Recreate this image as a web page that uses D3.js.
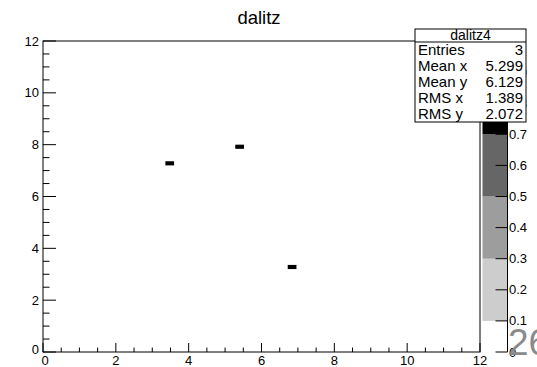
<!DOCTYPE html>
<html>
<head>
<meta charset="utf-8">
<script src="https://cdn.jsdelivr.net/npm/d3@7"></script>
<style>
  html, body { margin: 0; padding: 0; background: #fff; }
  svg { display: block; }
  text { font-family: "Liberation Sans", Arial, Helvetica, sans-serif; }
</style>
</head>
<body>
<svg id="chart" width="537" height="367"></svg>
<script>
// Filled entries of the 2-D histogram (x, y, weight)
const histName = "dalitz4";
const title = "dalitz";
const entryX = [3.51, 5.49, 6.897];
const entryY = [7.284, 7.884, 3.219];
const entryW = [1, 1, 1];

// Binning and axis ranges
const xRange = [0, 12];
const yRange = [0, 12];
const zRange = [0, 1];
const xBins = 50;
const yBins = 75;
const axisTicks = [0, 2, 4, 6, 8, 10, 12];
const paletteTicks = [0, 0.1, 0.2, 0.3, 0.4, 0.5, 0.6, 0.7, 0.8, 0.9, 1];

// Contour levels of the grey palette and their colours
const contourLevels = [0.1, 0.3, 0.5, 0.7, 0.9];
const contourColors = ["#cdcdcd", "#9d9d9d", "#666666", "#000000"];

const svg = d3.select("#chart");
const frame = { left: 43, right: 480, top: 41, bottom: 352 };

const x = d3.scaleLinear().domain(xRange).range([frame.left, frame.right]);
const y = d3.scaleLinear().domain(yRange).range([frame.bottom, frame.top]);
const z = d3.scaleLinear().domain(zRange).range([frame.bottom, frame.top]);
const colorOf = d3.scaleThreshold()
  .domain(contourLevels.slice(0, 4))
  .range(["none"].concat(contourColors));

// Accumulate entries into bins
const bw = (xRange[1] - xRange[0]) / xBins;
const bh = (yRange[1] - yRange[0]) / yBins;
const binMap = new Map();
entryX.forEach((vx, i) => {
  const ix = Math.floor((vx - xRange[0]) / bw);
  const iy = Math.floor((entryY[i] - yRange[0]) / bh);
  const key = ix + "," + iy;
  binMap.set(key, { ix, iy, w: (binMap.has(key) ? binMap.get(key).w : 0) + entryW[i] });
});
const bins = Array.from(binMap.values());

// Title
svg.append("text")
  .attr("x", 259).attr("y", 24)
  .attr("text-anchor", "middle")
  .attr("font-size", 18.5)
  .text(title);

// Bins
svg.append("g").selectAll("rect").data(bins).join("rect")
  .attr("x", d => x(xRange[0] + d.ix * bw))
  .attr("y", d => y(yRange[0] + (d.iy + 1) * bh))
  .attr("width", d => x(xRange[0] + (d.ix + 1) * bw) - x(xRange[0] + d.ix * bw))
  .attr("height", d => y(yRange[0] + d.iy * bh) - y(yRange[0] + (d.iy + 1) * bh))
  .attr("fill", d => colorOf(Math.min(d.w, zRange[1] * 0.999)));

// Frame
svg.append("rect")
  .attr("x", frame.left).attr("y", frame.top)
  .attr("width", frame.right - frame.left).attr("height", frame.bottom - frame.top)
  .attr("fill", "none").attr("stroke", "#000").attr("stroke-width", 1);

// Minor tick positions (4 subdivisions per major interval)
const minorTicks = d3.range(0, 12.0001, 0.5).filter(v => v % 2 !== 0);

// X axis: ticks drawn inward from the bottom edge
const gx = svg.append("g").attr("stroke", "#000");
gx.selectAll("line.maj").data(axisTicks).join("line")
  .attr("x1", d => x(d)).attr("x2", d => x(d))
  .attr("y1", frame.bottom).attr("y2", frame.bottom - 9);
gx.selectAll("line.min").data(minorTicks).join("line")
  .attr("x1", d => x(d)).attr("x2", d => x(d))
  .attr("y1", frame.bottom).attr("y2", frame.bottom - 4.5);
svg.append("g").selectAll("text").data(axisTicks).join("text")
  .attr("x", d => x(d) + (d === 0 ? 2 : 0)).attr("y", 364.5)
  .attr("text-anchor", "middle").attr("font-size", 13)
  .text(d => d);

// Y axis: ticks drawn inward from the left edge
const gy = svg.append("g").attr("stroke", "#000");
gy.selectAll("line.maj").data(axisTicks).join("line")
  .attr("x1", frame.left).attr("x2", frame.left + 13)
  .attr("y1", d => y(d)).attr("y2", d => y(d));
gy.selectAll("line.min").data(minorTicks).join("line")
  .attr("x1", frame.left).attr("x2", frame.left + 6.5)
  .attr("y1", d => y(d)).attr("y2", d => y(d));
svg.append("g").selectAll("text").data(axisTicks).join("text")
  .attr("x", 39).attr("y", d => y(d) + (d === 0 ? 1.5 : 4.5))
  .attr("text-anchor", "end").attr("font-size", 13)
  .text(d => d);

// Colour palette
const pal = { left: 482.5, right: 507.5 };
const bands = contourColors.map((c, i) => ({ lo: contourLevels[i], hi: contourLevels[i + 1], c }));
svg.append("g").selectAll("rect").data(bands).join("rect")
  .attr("x", pal.left).attr("width", pal.right - pal.left)
  .attr("y", d => z(d.hi)).attr("height", d => z(d.lo) - z(d.hi))
  .attr("fill", d => d.c);
svg.append("line")
  .attr("x1", pal.right).attr("x2", pal.right)
  .attr("y1", z(zRange[0])).attr("y2", z(zRange[1]))
  .attr("stroke", "#000");
svg.append("g").selectAll("line").data(paletteTicks).join("line")
  .attr("x1", pal.right).attr("x2", pal.right - 12)
  .attr("y1", d => z(d)).attr("y2", d => z(d))
  .attr("stroke", "#000");
svg.append("g").selectAll("text").data(paletteTicks).join("text")
  .attr("x", 509).attr("y", d => z(d) + 4.5)
  .attr("font-size", 13)
  .text(d => d3.format("~g")(d));

// Page number
svg.append("text")
  .attr("x", 508).attr("y", 355)
  .attr("font-size", 37)
  .attr("font-family", "'DejaVu Sans', sans-serif")
  .attr("font-weight", 200)
  .attr("fill", "#8a8a8a")
  .text("26");

// Statistics box
const n = entryX.length;
const meanX = d3.mean(entryX), meanY = d3.mean(entryY);
const rmsX = Math.sqrt(d3.mean(entryX, v => (v - meanX) ** 2));
const rmsY = Math.sqrt(d3.mean(entryY, v => (v - meanY) ** 2));
const statRows = [
  ["Entries", String(n)],
  ["Mean x", meanX.toFixed(3)],
  ["Mean y", meanY.toFixed(3)],
  ["RMS x", rmsX.toFixed(3)],
  ["RMS y", rmsY.toFixed(3)]
];
const box = { left: 415, right: 526, top: 29, bottom: 122, head: 42 };
const sb = svg.append("g");
sb.append("rect")
  .attr("x", box.left).attr("y", box.top)
  .attr("width", box.right - box.left).attr("height", box.bottom - box.top)
  .attr("fill", "#fff").attr("stroke", "#000");
sb.append("line")
  .attr("x1", box.left).attr("x2", box.right)
  .attr("y1", box.head).attr("y2", box.head).attr("stroke", "#000");
sb.append("text")
  .attr("x", (box.left + box.right) / 2).attr("y", box.head - 2)
  .attr("text-anchor", "middle").attr("font-size", 14)
  .text(histName);
const rowH = (box.bottom - box.head) / statRows.length;
statRows.forEach((r, i) => {
  const cy = box.head + rowH * (i + 0.5) + 5.2;
  sb.append("text").attr("x", box.left + 3).attr("y", cy)
    .attr("font-size", 15).text(r[0]);
  sb.append("text").attr("x", box.right - 3).attr("y", cy)
    .attr("text-anchor", "end").attr("font-size", 15).text(r[1]);
});
</script>
</body>
</html>
